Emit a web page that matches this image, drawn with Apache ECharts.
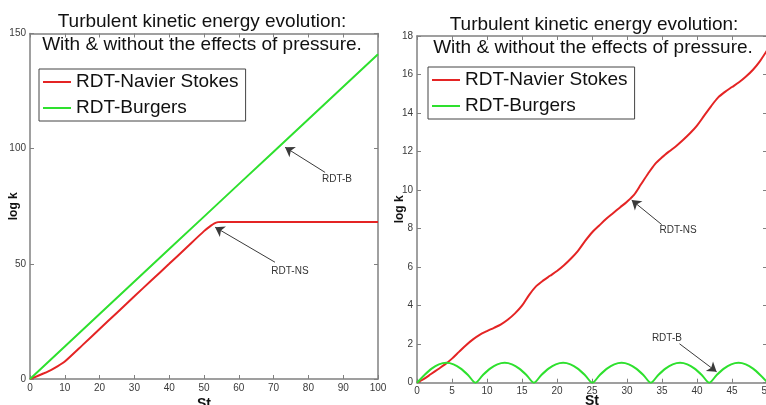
<!DOCTYPE html>
<html><head><meta charset="utf-8">
<script src="https://cdn.jsdelivr.net/npm/echarts@6/dist/echarts.min.js"></script>
<style>html,body{margin:0;padding:0;background:#fff}#c{width:766px;height:405px}</style>
</head><body><div id="c"></div>
<script>
// ---------- data ----------
const seriesNames = ['RDT-Navier Stokes', 'RDT-Burgers'];
const titleLines = ['Turbulent kinetic energy evolution:', 'With & without the effects of pressure.'];

// left panel
const leftNsSt = [0,2,4,6,8,10,15,20,25,30,35,40,45,50,52,53,54,55,60,70,80,90,100];
const leftNs   = [0,1.2,2.5,3.9,5.6,7.6,14.6,21.7,28.8,35.9,43,50,57.1,64.2,66.6,67.6,68.1,68.2,68.2,68.2,68.2,68.2,68.2];
const leftBSt  = [0,10,20,30,40,50,60,70,80,90,100];
const leftB    = [0,14.1,28.2,42.3,56.4,70.5,84.6,98.7,112.8,126.9,141];

// right panel
const rightNsSt = [0,1,2,3,4,5,6,7,8,9,10,11,12,13,14,15,16,17,18,19,20,21,22,23,24,25,26,27,28,29,30,31,32,33,34,35,36,37,38,39,40,41,42,43,44,45,46,47,48,49,50];
const rightNs   = [0,0.2,0.45,0.7,0.95,1.25,1.6,1.95,2.25,2.5,2.68,2.85,3.03,3.28,3.6,4.0,4.55,5.0,5.3,5.55,5.8,6.1,6.45,6.85,7.35,7.8,8.15,8.5,8.8,9.1,9.4,9.75,10.3,10.85,11.35,11.7,12.0,12.28,12.6,12.95,13.35,13.85,14.35,14.8,15.1,15.35,15.6,15.9,16.25,16.7,17.25];
const rightBSt  = [0,1.04,2.09,3.13,4.18,5.22,6.26,7.31,8.35,9.39,10.44,11.48,12.53,13.57,14.61,15.66,16.7,17.74,18.79,19.83,20.88,21.92,22.96,24.01,25.05,26.09,27.14,28.18,29.23,30.27,31.31,32.36,33.4,34.44,35.49,36.53,37.58,38.62,39.66,40.71,41.75,42.79,43.84,44.88,45.93,46.97,48.01,49.06,50];
const rightB    = [0,0.39,0.73,0.95,1.03,0.95,0.73,0.39,0,0.39,0.73,0.95,1.03,0.95,0.73,0.39,0,0.39,0.73,0.95,1.03,0.95,0.73,0.39,0,0.39,0.73,0.95,1.03,0.95,0.73,0.39,0,0.39,0.73,0.95,1.03,0.95,0.73,0.39,0,0.39,0.73,0.95,1.03,0.95,0.73,0.39,0.04];

// axis ranges / ticks
const leftXRange = [0, 100, 10];
const leftYRange = [0, 150, 50];
const rightXRange = [0, 50, 5];
const rightYRange = [0, 18, 2];
const xName = 'St';
const yName = 'log k';

// annotations (data coordinates): label position, arrow tail, arrow head
const annLeftLabels = ['RDT-B', 'RDT-NS'];
const annLeftText   = [[88.2, 86.7], [74.7, 46.8]];
const annLeftFrom   = [[84.8, 89.7], [70.4, 50.7]];
const annLeftTo     = [[73.3, 100.6], [53.2, 65.9]];
const annRightLabels = ['RDT-NS', 'RDT-B'];
const annRightText   = [[37.3, 7.9], [35.7, 2.31]];
const annRightFrom   = [[34.96, 8.21], [37.5, 2.02]];
const annRightTo     = [[30.67, 9.48], [42.8, 0.57]];

// ---------- styling ----------
const FONT = '"Liberation Sans", Arial, Helvetica, sans-serif';
const FRAME = '#808080';
const RED = '#e42424';
const GREEN = '#2ee02e';

function zip(a, b) { return a.map((v, i) => [v, b[i]]); }

function axis(grid, pos, r, main, extra) {
  const a = {
    type: 'value', gridIndex: grid, position: pos,
    min: r[0], max: r[1], interval: r[2],
    nameMoveOverlap: false,
    axisLine: { show: true, onZero: false, lineStyle: { color: FRAME, width: 1.5 } },
    axisTick: { show: true, inside: true, length: 4, lineStyle: { color: FRAME, width: 1 } },
    splitLine: { show: false },
    axisLabel: { show: main, color: '#3a3a3a', fontSize: 10, fontFamily: FONT, margin: 4 }
  };
  return Object.assign(a, extra || {});
}

function annotations(labels, texts, froms, tos) {
  return {
    markLine: {
      silent: true, animation: false,
      symbol: ['none', 'arrow'], symbolSize: 9,
      lineStyle: { color: '#3a3a3a', width: 1, type: 'solid' },
      label: { show: false },
      data: froms.map((f, i) => [{ coord: f }, { coord: tos[i] }])
    },
    markPoint: {
      silent: true, animation: false,
      symbol: 'circle', symbolSize: 1,
      itemStyle: { color: 'rgba(0,0,0,0)' },
      label: { show: true, position: 'inside', color: '#333', fontSize: 10, fontFamily: FONT },
      data: texts.map((t, i) => ({ coord: t, label: { formatter: labels[i] } }))
    }
  };
}

const nameStyleX = { fontSize: 14, fontWeight: 'bold', color: '#111', fontFamily: FONT };
const nameStyleY = { fontSize: 12, fontWeight: 'bold', color: '#111', fontFamily: FONT };

const legendBase = {
  orient: 'vertical', padding: [2, 7, 2, 4], itemWidth: 28, itemHeight: 2, itemGap: 4,
  icon: 'rect',
  textStyle: { fontSize: 19, lineHeight: 22, color: '#111', fontFamily: FONT },
  borderColor: '#444', borderWidth: 1, backgroundColor: '#fff',
  data: seriesNames, selectedMode: false
};

function titleText(x, y, t) {
  return { type: 'text', x: x, y: y, z: 100,
    style: { text: t, font: '19px ' + FONT, fill: '#111',
      align: 'center', textAlign: 'center', verticalAlign: 'middle', textVerticalAlign: 'middle' } };
}

const lineSeries = (name, color, xi, yi, data, smooth) => ({
  name: name, type: 'line', xAxisIndex: xi, yAxisIndex: yi,
  data: data, symbol: 'none', showSymbol: false, smooth: smooth,
  lineStyle: { color: color, width: 2 }, itemStyle: { color: color },
  animation: false, z: 3
});

const option = {
  animation: false,
  backgroundColor: '#fff',
  grid: [
    { left: 30, top: 33.5, width: 348, height: 345.5, containLabel: false, outerBoundsMode: 'none' },
    { left: 417, top: 36, width: 350, height: 346.7, containLabel: false, outerBoundsMode: 'none' }
  ],
  xAxis: [
    axis(0, 'bottom', leftXRange, true, { name: xName, nameLocation: 'middle', nameGap: 18, nameTextStyle: nameStyleX }),
    axis(0, 'top', leftXRange, false),
    axis(1, 'bottom', rightXRange, true, { name: xName, nameLocation: 'middle', nameGap: 11, nameTextStyle: nameStyleX }),
    axis(1, 'top', rightXRange, false)
  ],
  yAxis: [
    axis(0, 'left', leftYRange, true, { name: yName, nameLocation: 'middle', nameGap: 10, nameRotate: 90, nameTextStyle: nameStyleY }),
    axis(0, 'right', leftYRange, false),
    axis(1, 'left', rightYRange, true, { name: yName, nameLocation: 'middle', nameGap: 11, nameRotate: 90, nameTextStyle: nameStyleY }),
    axis(1, 'right', rightYRange, false)
  ],
  legend: [
    Object.assign({}, legendBase, { left: 39, top: 69 }),
    Object.assign({}, legendBase, { left: 428, top: 67 })
  ],
  graphic: [
    titleText(202, 22, titleLines[0]),
    titleText(202, 45, titleLines[1]),
    titleText(594, 25, titleLines[0]),
    titleText(593, 48, titleLines[1])
  ],
  series: [
    Object.assign(lineSeries(seriesNames[0], RED, 0, 0, zip(leftNsSt, leftNs), 0.2),
      annotations(annLeftLabels, annLeftText, annLeftFrom, annLeftTo)),
    lineSeries(seriesNames[1], GREEN, 0, 0, zip(leftBSt, leftB), false),
    Object.assign(lineSeries(seriesNames[0], RED, 2, 2, zip(rightNsSt, rightNs), 0.3),
      annotations(annRightLabels, annRightText, annRightFrom, annRightTo)),
    lineSeries(seriesNames[1], GREEN, 2, 2, zip(rightBSt, rightB), 0.3)
  ]
};

const chart = echarts.init(document.getElementById('c'), null, { renderer: 'canvas' });
chart.setOption(option);
</script>
</body></html>
